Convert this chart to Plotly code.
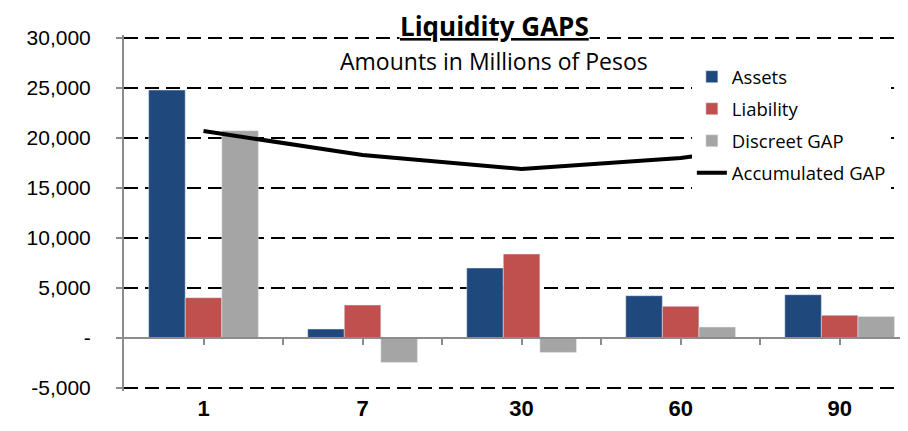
import plotly.graph_objects as go

categories = ["1", "7", "30", "60", "90"]
assets = [24800, 900, 7000, 4230, 4330]
liability = [4030, 3300, 8400, 3170, 2270]
discreet_gap = [20730, -2440, -1440, 1100, 2150]
accumulated_gap = [20700, 18300, 16900, 18000, 20100]

y_tickvals = [-5000, 0, 5000, 10000, 15000, 20000, 25000, 30000]
y_ticktext = ["-5,000", "-", "5,000", "10,000", "15,000", "20,000", "25,000", "30,000"]

xpos = list(range(len(categories)))

BLUE = "#1F497D"
RED = "#C0504D"
GRAY = "#A5A5A5"
TXT = "'Open Sans', Lato, sans-serif"

fig = go.Figure()
fig.add_trace(go.Bar(x=xpos, y=assets, name="Assets", marker_color=BLUE,
                     legendgroup="a"))
fig.add_trace(go.Bar(x=xpos, y=liability, name="Liability", marker_color=RED,
                     legendgroup="b"))
fig.add_trace(go.Bar(x=xpos, y=discreet_gap, name="Discreet GAP", marker_color=GRAY,
                     legendgroup="c"))
fig.add_trace(go.Scatter(x=xpos, y=accumulated_gap, name="Accumulated GAP",
                         mode="lines", line=dict(color="black", width=4),
                         xaxis="x2", yaxis="y", legendgroup="d"))

xr = [-0.5, 4.48]
yr = [-5300, 30300]
# plot area: 356 px tall -> 10 px per 1000
fig.update_layout(
    width=908, height=431,
    margin=dict(l=116, r=0, t=27, b=48),
    paper_bgcolor="white", plot_bgcolor="white",
    barmode="group", bargap=0.31, bargroupgap=0,
    showlegend=True,
    legend=dict(x=0.717, y=0.935, xanchor="left", yanchor="top",
                bgcolor="white", font=dict(family=TXT, size=18.5, color="black"),
                traceorder="grouped", tracegroupgap=5),
    xaxis=dict(range=xr, tickvals=xpos, ticktext=categories, automargin=False,
               showgrid=False, showline=False, zeroline=False, ticks="",
               tickfont=dict(family="'Liberation Sans Narrow', 'Liberation Sans', Arial",
                             size=22, color="black", weight="bold"),
               ticklabelstandoff=2),
    xaxis2=dict(range=xr, overlaying="x", anchor="free", position=5300 / 35600,
                automargin=False,
                showgrid=False, zeroline=False, showline=True,
                linecolor="#8C8C8C", linewidth=2,
                tickvals=[v / 2 for v in range(0, 10)], showticklabels=False,
                ticks="outside", ticklen=6, tickwidth=2, tickcolor="#8C8C8C"),
    yaxis=dict(range=yr, tickvals=y_tickvals, ticktext=y_ticktext, automargin=False,
               showgrid=True, gridcolor="black", gridwidth=1.6, griddash="14px,7px",
               zeroline=False, showline=True, linecolor="#8C8C8C", linewidth=2,
               ticks="outside", ticklen=6, tickwidth=2, tickcolor="#8C8C8C",
               ticklabelstandoff=21,
               tickfont=dict(family="'Liberation Sans', Arial", size=21, color="black")),
    annotations=[
        dict(text="<u><b>Liquidity GAPS</b></u>", x=0.468, y=1.026, xref="paper", yref="paper",
             xanchor="center", yanchor="middle", showarrow=False, bgcolor="white",
             borderpad=0,
             font=dict(family=TXT, size=26, color="black")),
        dict(text="Amounts in Millions of Pesos", x=0.467, y=0.927, xref="paper", yref="paper",
             xanchor="center", yanchor="middle", showarrow=False,
             font=dict(family=TXT, size=23, color="black")),
    ],
)

fig.write_html("out.html")
